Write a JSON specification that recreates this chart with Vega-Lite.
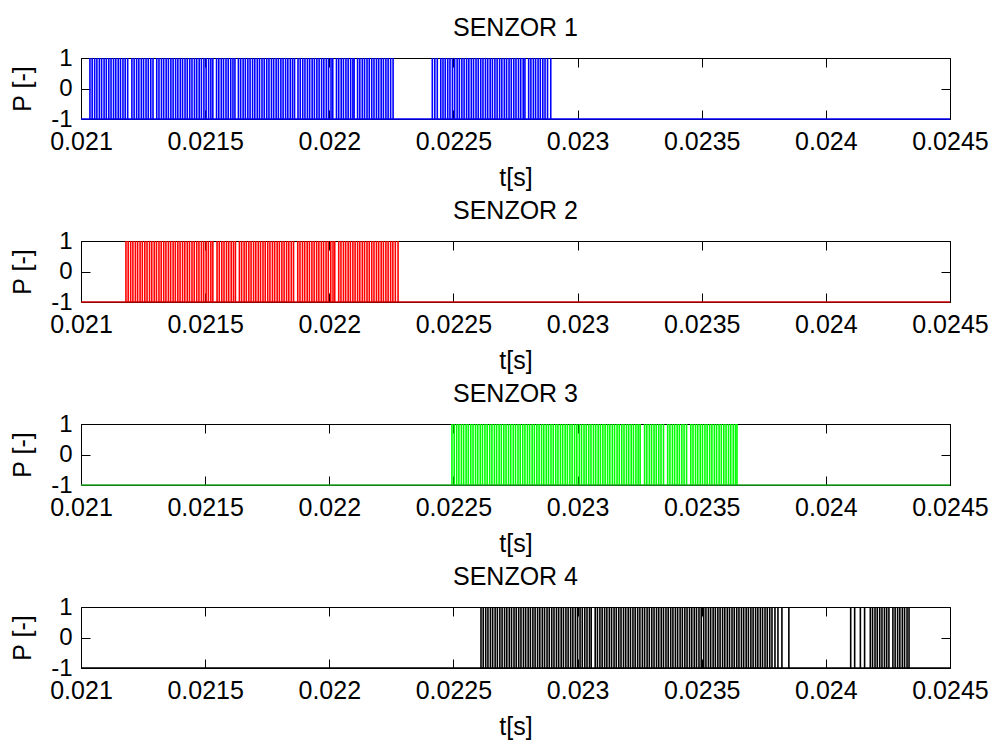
{
"$schema": "https://vega.github.io/schema/vega-lite/v6.json",
"padding": {"left": 10, "top": 15, "right": 0, "bottom": 0},
"bounds": "flush",
"spacing": 122,
"config": {
  "font": "Liberation Sans",
  "view": {"stroke": "black", "strokeWidth": 1},
  "title": {"fontSize": 25, "fontWeight": "normal", "font": "Liberation Sans", "color": "black", "baseline": "alphabetic", "offset": 5},
  "axis": {"domain": false, "grid": false, "tickColor": "black", "tickSize": -9, "tickWidth": 1, "labelFontSize": 25, "titleFontSize": 25, "titleFontWeight": "normal", "labelColor": "black", "titleColor": "black", "labelFont": "Liberation Sans", "titleFont": "Liberation Sans", "labelOverlap": false, "labelFlush": false, "labelBound": false},
  "axisY": {"labelFontSize": 24}
},
"vconcat": [
{
 "title": "SENZOR 1",
 "width": 869, "height": 61,
 "layer": [
  {"data": {"values": [{"t":0.021036},{"t":0.021045},{"t":0.021055},{"t":0.021064},{"t":0.021074},{"t":0.021083},{"t":0.021093},{"t":0.021102},{"t":0.021112},{"t":0.021121},{"t":0.021131},{"t":0.02114},{"t":0.02115},{"t":0.021159},{"t":0.021169},{"t":0.021178},{"t":0.021188},{"t":0.021205},{"t":0.021214},{"t":0.021224},{"t":0.021233},{"t":0.021243},{"t":0.021252},{"t":0.021262},{"t":0.021271},{"t":0.021281},{"t":0.02129},{"t":0.021305},{"t":0.021314},{"t":0.021324},{"t":0.021333},{"t":0.021343},{"t":0.021352},{"t":0.021362},{"t":0.021371},{"t":0.021381},{"t":0.02139},{"t":0.0214},{"t":0.021409},{"t":0.021419},{"t":0.021428},{"t":0.021438},{"t":0.021447},{"t":0.021457},{"t":0.021466},{"t":0.021476},{"t":0.021485},{"t":0.021495},{"t":0.021504},{"t":0.021514},{"t":0.021523},{"t":0.021531},{"t":0.021546},{"t":0.021555},{"t":0.021565},{"t":0.021574},{"t":0.021584},{"t":0.021593},{"t":0.021603},{"t":0.021612},{"t":0.02162},{"t":0.021634},{"t":0.021643},{"t":0.021653},{"t":0.021662},{"t":0.021672},{"t":0.021681},{"t":0.021691},{"t":0.0217},{"t":0.02171},{"t":0.021719},{"t":0.021729},{"t":0.021738},{"t":0.021748},{"t":0.021757},{"t":0.021767},{"t":0.021776},{"t":0.021786},{"t":0.021795},{"t":0.021805},{"t":0.021814},{"t":0.021824},{"t":0.021833},{"t":0.021843},{"t":0.021852},{"t":0.02186},{"t":0.021874},{"t":0.021883},{"t":0.021893},{"t":0.021902},{"t":0.021912},{"t":0.021921},{"t":0.021931},{"t":0.02194},{"t":0.02195},{"t":0.021959},{"t":0.021969},{"t":0.021978},{"t":0.021988},{"t":0.021997},{"t":0.022007},{"t":0.022014},{"t":0.022029},{"t":0.022038},{"t":0.022048},{"t":0.022057},{"t":0.022067},{"t":0.022076},{"t":0.022086},{"t":0.022095},{"t":0.0221},{"t":0.022114},{"t":0.022123},{"t":0.022133},{"t":0.022142},{"t":0.022152},{"t":0.022161},{"t":0.022171},{"t":0.02218},{"t":0.02219},{"t":0.022199},{"t":0.022209},{"t":0.022218},{"t":0.022228},{"t":0.022237},{"t":0.022247},{"t":0.022257},{"t":0.022415},{"t":0.022425},{"t":0.022435},{"t":0.022449},{"t":0.022458},{"t":0.022467},{"t":0.022477},{"t":0.022486},{"t":0.022496},{"t":0.022505},{"t":0.022515},{"t":0.022524},{"t":0.022534},{"t":0.022543},{"t":0.022553},{"t":0.022562},{"t":0.022572},{"t":0.022581},{"t":0.022591},{"t":0.0226},{"t":0.02261},{"t":0.022619},{"t":0.022629},{"t":0.022638},{"t":0.022648},{"t":0.022657},{"t":0.022667},{"t":0.022676},{"t":0.022686},{"t":0.022695},{"t":0.022705},{"t":0.022714},{"t":0.022724},{"t":0.022733},{"t":0.022743},{"t":0.022752},{"t":0.022762},{"t":0.022771},{"t":0.022781},{"t":0.022788},{"t":0.022803},{"t":0.022812},{"t":0.022822},{"t":0.022831},{"t":0.022841},{"t":0.02285},{"t":0.02286},{"t":0.022869},{"t":0.022879},{"t":0.022892}]},
   "mark": {"type": "rule", "color": "#0000ff", "strokeWidth": 1.6},
   "encoding": {
    "x": {"field": "t", "type": "quantitative", "scale": {"domain": [0.021, 0.0245], "nice": false, "zero": false}, "axis": {"values": [0.021,0.0215,0.022,0.0225,0.023,0.0235,0.024,0.0245], "format": "~g", "title": "t[s]", "labelPadding": 19, "titlePadding": 11}},
    "y": {"datum": -1, "type": "quantitative", "scale": {"domain": [-1, 1], "nice": false, "zero": false}, "axis": {"values": [-1,0,1], "labelExpr": "'' + datum.value", "title": "P [-]", "labelPadding": 18, "titlePadding": 15}},
    "y2": {"datum": 1}
   }},
  {"data": {"values": [{}]},
   "mark": {"type": "rule", "color": "#0000ff", "strokeWidth": 1.5},
   "encoding": {
    "x": {"datum": 0.021, "type": "quantitative", "axis": {"orient": "top", "values": [0.021,0.0215,0.022,0.0225,0.023,0.0235,0.024,0.0245], "labels": false, "title": null}},
    "x2": {"datum": 0.0245},
    "y": {"datum": -1, "type": "quantitative", "axis": {"orient": "right", "values": [-1,0,1], "labels": false, "title": null}}
   }}
 ],
 "resolve": {"axis": {"x": "independent", "y": "independent"}}
},
{
 "title": "SENZOR 2",
 "width": 869, "height": 61,
 "layer": [
  {"data": {"values": [{"t":0.021181},{"t":0.02119},{"t":0.0212},{"t":0.021209},{"t":0.021219},{"t":0.021228},{"t":0.021238},{"t":0.021247},{"t":0.021257},{"t":0.021266},{"t":0.021276},{"t":0.021285},{"t":0.021295},{"t":0.021304},{"t":0.021314},{"t":0.021323},{"t":0.021333},{"t":0.021342},{"t":0.021352},{"t":0.021361},{"t":0.021371},{"t":0.02138},{"t":0.02139},{"t":0.021399},{"t":0.021409},{"t":0.021418},{"t":0.021428},{"t":0.021437},{"t":0.021447},{"t":0.021456},{"t":0.021466},{"t":0.021475},{"t":0.021485},{"t":0.021494},{"t":0.021504},{"t":0.021513},{"t":0.021523},{"t":0.021531},{"t":0.021548},{"t":0.021557},{"t":0.021567},{"t":0.021576},{"t":0.021586},{"t":0.021595},{"t":0.021605},{"t":0.021614},{"t":0.021622},{"t":0.021638},{"t":0.021647},{"t":0.021657},{"t":0.021666},{"t":0.021676},{"t":0.021685},{"t":0.021695},{"t":0.021704},{"t":0.021714},{"t":0.021723},{"t":0.021733},{"t":0.021742},{"t":0.021752},{"t":0.021761},{"t":0.021771},{"t":0.02178},{"t":0.02179},{"t":0.021799},{"t":0.021809},{"t":0.021818},{"t":0.021828},{"t":0.021837},{"t":0.021847},{"t":0.021856},{"t":0.021873},{"t":0.021882},{"t":0.021892},{"t":0.021901},{"t":0.021911},{"t":0.02192},{"t":0.02193},{"t":0.021939},{"t":0.021949},{"t":0.021958},{"t":0.021968},{"t":0.021977},{"t":0.021987},{"t":0.021996},{"t":0.022006},{"t":0.022015},{"t":0.022022},{"t":0.022038},{"t":0.022047},{"t":0.022057},{"t":0.022066},{"t":0.022076},{"t":0.022085},{"t":0.022095},{"t":0.022104},{"t":0.022114},{"t":0.022123},{"t":0.022133},{"t":0.022142},{"t":0.022152},{"t":0.022161},{"t":0.022171},{"t":0.02218},{"t":0.02219},{"t":0.022199},{"t":0.022209},{"t":0.022218},{"t":0.022228},{"t":0.022237},{"t":0.022247},{"t":0.022256},{"t":0.022266},{"t":0.022277}]},
   "mark": {"type": "rule", "color": "#ff0000", "strokeWidth": 1.6},
   "encoding": {
    "x": {"field": "t", "type": "quantitative", "scale": {"domain": [0.021, 0.0245], "nice": false, "zero": false}, "axis": {"values": [0.021,0.0215,0.022,0.0225,0.023,0.0235,0.024,0.0245], "format": "~g", "title": "t[s]", "labelPadding": 19, "titlePadding": 11}},
    "y": {"datum": -1, "type": "quantitative", "scale": {"domain": [-1, 1], "nice": false, "zero": false}, "axis": {"values": [-1,0,1], "labelExpr": "'' + datum.value", "title": "P [-]", "labelPadding": 18, "titlePadding": 15}},
    "y2": {"datum": 1}
   }},
  {"data": {"values": [{}]},
   "mark": {"type": "rule", "color": "#cc0000", "strokeWidth": 1.5},
   "encoding": {
    "x": {"datum": 0.021, "type": "quantitative", "axis": {"orient": "top", "values": [0.021,0.0215,0.022,0.0225,0.023,0.0235,0.024,0.0245], "labels": false, "title": null}},
    "x2": {"datum": 0.0245},
    "y": {"datum": -1, "type": "quantitative", "axis": {"orient": "right", "values": [-1,0,1], "labels": false, "title": null}}
   }}
 ],
 "resolve": {"axis": {"x": "independent", "y": "independent"}}
},
{
 "title": "SENZOR 3",
 "width": 869, "height": 61,
 "layer": [
  {"data": {"values": [{"t":0.022494},{"t":0.022503},{"t":0.022513},{"t":0.022522},{"t":0.022532},{"t":0.022541},{"t":0.022551},{"t":0.02256},{"t":0.02257},{"t":0.022579},{"t":0.022589},{"t":0.022598},{"t":0.022608},{"t":0.022617},{"t":0.022627},{"t":0.022636},{"t":0.022646},{"t":0.022655},{"t":0.022665},{"t":0.022674},{"t":0.022684},{"t":0.022693},{"t":0.022703},{"t":0.022712},{"t":0.022722},{"t":0.022731},{"t":0.022741},{"t":0.02275},{"t":0.02276},{"t":0.022769},{"t":0.022779},{"t":0.022788},{"t":0.022798},{"t":0.022807},{"t":0.022817},{"t":0.022826},{"t":0.022836},{"t":0.022845},{"t":0.022855},{"t":0.022864},{"t":0.022874},{"t":0.022883},{"t":0.022893},{"t":0.022902},{"t":0.022912},{"t":0.022921},{"t":0.022931},{"t":0.02294},{"t":0.02295},{"t":0.022959},{"t":0.022969},{"t":0.022978},{"t":0.022988},{"t":0.022997},{"t":0.023007},{"t":0.023016},{"t":0.023026},{"t":0.023035},{"t":0.023045},{"t":0.023054},{"t":0.023064},{"t":0.023073},{"t":0.023083},{"t":0.023092},{"t":0.023102},{"t":0.023111},{"t":0.023121},{"t":0.02313},{"t":0.02314},{"t":0.023149},{"t":0.023159},{"t":0.023168},{"t":0.023178},{"t":0.023187},{"t":0.023197},{"t":0.023206},{"t":0.023216},{"t":0.023225},{"t":0.023235},{"t":0.023244},{"t":0.023252},{"t":0.02327},{"t":0.023279},{"t":0.023289},{"t":0.023298},{"t":0.023308},{"t":0.023317},{"t":0.023327},{"t":0.023336},{"t":0.023346},{"t":0.023363},{"t":0.023372},{"t":0.023382},{"t":0.023391},{"t":0.023401},{"t":0.02341},{"t":0.02342},{"t":0.023429},{"t":0.023439},{"t":0.023456},{"t":0.023465},{"t":0.023475},{"t":0.023484},{"t":0.023494},{"t":0.023503},{"t":0.023513},{"t":0.023522},{"t":0.023532},{"t":0.023541},{"t":0.023551},{"t":0.02356},{"t":0.02357},{"t":0.023579},{"t":0.023589},{"t":0.023598},{"t":0.023608},{"t":0.023617},{"t":0.023627},{"t":0.023636},{"t":0.023642}]},
   "mark": {"type": "rule", "color": "#00ff00", "strokeWidth": 1.6},
   "encoding": {
    "x": {"field": "t", "type": "quantitative", "scale": {"domain": [0.021, 0.0245], "nice": false, "zero": false}, "axis": {"values": [0.021,0.0215,0.022,0.0225,0.023,0.0235,0.024,0.0245], "format": "~g", "title": "t[s]", "labelPadding": 19, "titlePadding": 11}},
    "y": {"datum": -1, "type": "quantitative", "scale": {"domain": [-1, 1], "nice": false, "zero": false}, "axis": {"values": [-1,0,1], "labelExpr": "'' + datum.value", "title": "P [-]", "labelPadding": 18, "titlePadding": 15}},
    "y2": {"datum": 1}
   }},
  {"data": {"values": [{}]},
   "mark": {"type": "rule", "color": "#22aa22", "strokeWidth": 1.5},
   "encoding": {
    "x": {"datum": 0.021, "type": "quantitative", "axis": {"orient": "top", "values": [0.021,0.0215,0.022,0.0225,0.023,0.0235,0.024,0.0245], "labels": false, "title": null}},
    "x2": {"datum": 0.0245},
    "y": {"datum": -1, "type": "quantitative", "axis": {"orient": "right", "values": [-1,0,1], "labels": false, "title": null}}
   }}
 ],
 "resolve": {"axis": {"x": "independent", "y": "independent"}}
},
{
 "title": "SENZOR 4",
 "width": 869, "height": 61,
 "layer": [
  {"data": {"values": [{"t":0.022611},{"t":0.02262},{"t":0.02263},{"t":0.022639},{"t":0.022649},{"t":0.022658},{"t":0.022668},{"t":0.022677},{"t":0.022687},{"t":0.022696},{"t":0.022706},{"t":0.022715},{"t":0.022725},{"t":0.022734},{"t":0.022744},{"t":0.022753},{"t":0.022763},{"t":0.022772},{"t":0.022782},{"t":0.022791},{"t":0.022801},{"t":0.02281},{"t":0.02282},{"t":0.022829},{"t":0.022839},{"t":0.022848},{"t":0.022858},{"t":0.022867},{"t":0.022877},{"t":0.022886},{"t":0.022896},{"t":0.022905},{"t":0.022915},{"t":0.022924},{"t":0.022934},{"t":0.022943},{"t":0.022953},{"t":0.022962},{"t":0.022972},{"t":0.022981},{"t":0.022991},{"t":0.023},{"t":0.02301},{"t":0.023019},{"t":0.023029},{"t":0.023038},{"t":0.023048},{"t":0.023055},{"t":0.023071},{"t":0.02308},{"t":0.02309},{"t":0.023099},{"t":0.023109},{"t":0.023118},{"t":0.023128},{"t":0.023137},{"t":0.023147},{"t":0.023156},{"t":0.023166},{"t":0.023175},{"t":0.023185},{"t":0.023194},{"t":0.023204},{"t":0.023213},{"t":0.023223},{"t":0.023232},{"t":0.023242},{"t":0.023251},{"t":0.023261},{"t":0.02327},{"t":0.02328},{"t":0.023289},{"t":0.023299},{"t":0.023308},{"t":0.023318},{"t":0.023327},{"t":0.023337},{"t":0.023346},{"t":0.023356},{"t":0.023365},{"t":0.023375},{"t":0.023384},{"t":0.023394},{"t":0.023403},{"t":0.023413},{"t":0.023422},{"t":0.023432},{"t":0.023441},{"t":0.023451},{"t":0.02346},{"t":0.02347},{"t":0.023479},{"t":0.023489},{"t":0.023498},{"t":0.023508},{"t":0.023517},{"t":0.023527},{"t":0.023536},{"t":0.023546},{"t":0.023555},{"t":0.023565},{"t":0.023574},{"t":0.023584},{"t":0.023593},{"t":0.023603},{"t":0.023612},{"t":0.023622},{"t":0.023631},{"t":0.023641},{"t":0.02365},{"t":0.02366},{"t":0.023669},{"t":0.023679},{"t":0.023688},{"t":0.023698},{"t":0.023707},{"t":0.023717},{"t":0.023726},{"t":0.023736},{"t":0.023745},{"t":0.023755},{"t":0.023764},{"t":0.023774},{"t":0.023783},{"t":0.023795},{"t":0.023807},{"t":0.023823},{"t":0.023851},{"t":0.0241},{"t":0.024116},{"t":0.024139},{"t":0.024156},{"t":0.024179},{"t":0.024188},{"t":0.024198},{"t":0.024207},{"t":0.024217},{"t":0.024226},{"t":0.024236},{"t":0.024245},{"t":0.024254},{"t":0.02427},{"t":0.024279},{"t":0.024289},{"t":0.024298},{"t":0.024308},{"t":0.024317},{"t":0.024327},{"t":0.024335}]},
   "mark": {"type": "rule", "color": "#000000", "strokeWidth": 1.6},
   "encoding": {
    "x": {"field": "t", "type": "quantitative", "scale": {"domain": [0.021, 0.0245], "nice": false, "zero": false}, "axis": {"values": [0.021,0.0215,0.022,0.0225,0.023,0.0235,0.024,0.0245], "format": "~g", "title": "t[s]", "labelPadding": 19, "titlePadding": 11}},
    "y": {"datum": -1, "type": "quantitative", "scale": {"domain": [-1, 1], "nice": false, "zero": false}, "axis": {"values": [-1,0,1], "labelExpr": "'' + datum.value", "title": "P [-]", "labelPadding": 18, "titlePadding": 15}},
    "y2": {"datum": 1}
   }},
  {"data": {"values": [{}]},
   "mark": {"type": "rule", "color": "#000000", "strokeWidth": 1.5},
   "encoding": {
    "x": {"datum": 0.021, "type": "quantitative", "axis": {"orient": "top", "values": [0.021,0.0215,0.022,0.0225,0.023,0.0235,0.024,0.0245], "labels": false, "title": null}},
    "x2": {"datum": 0.0245},
    "y": {"datum": -1, "type": "quantitative", "axis": {"orient": "right", "values": [-1,0,1], "labels": false, "title": null}}
   }}
 ],
 "resolve": {"axis": {"x": "independent", "y": "independent"}}
}
]
}
